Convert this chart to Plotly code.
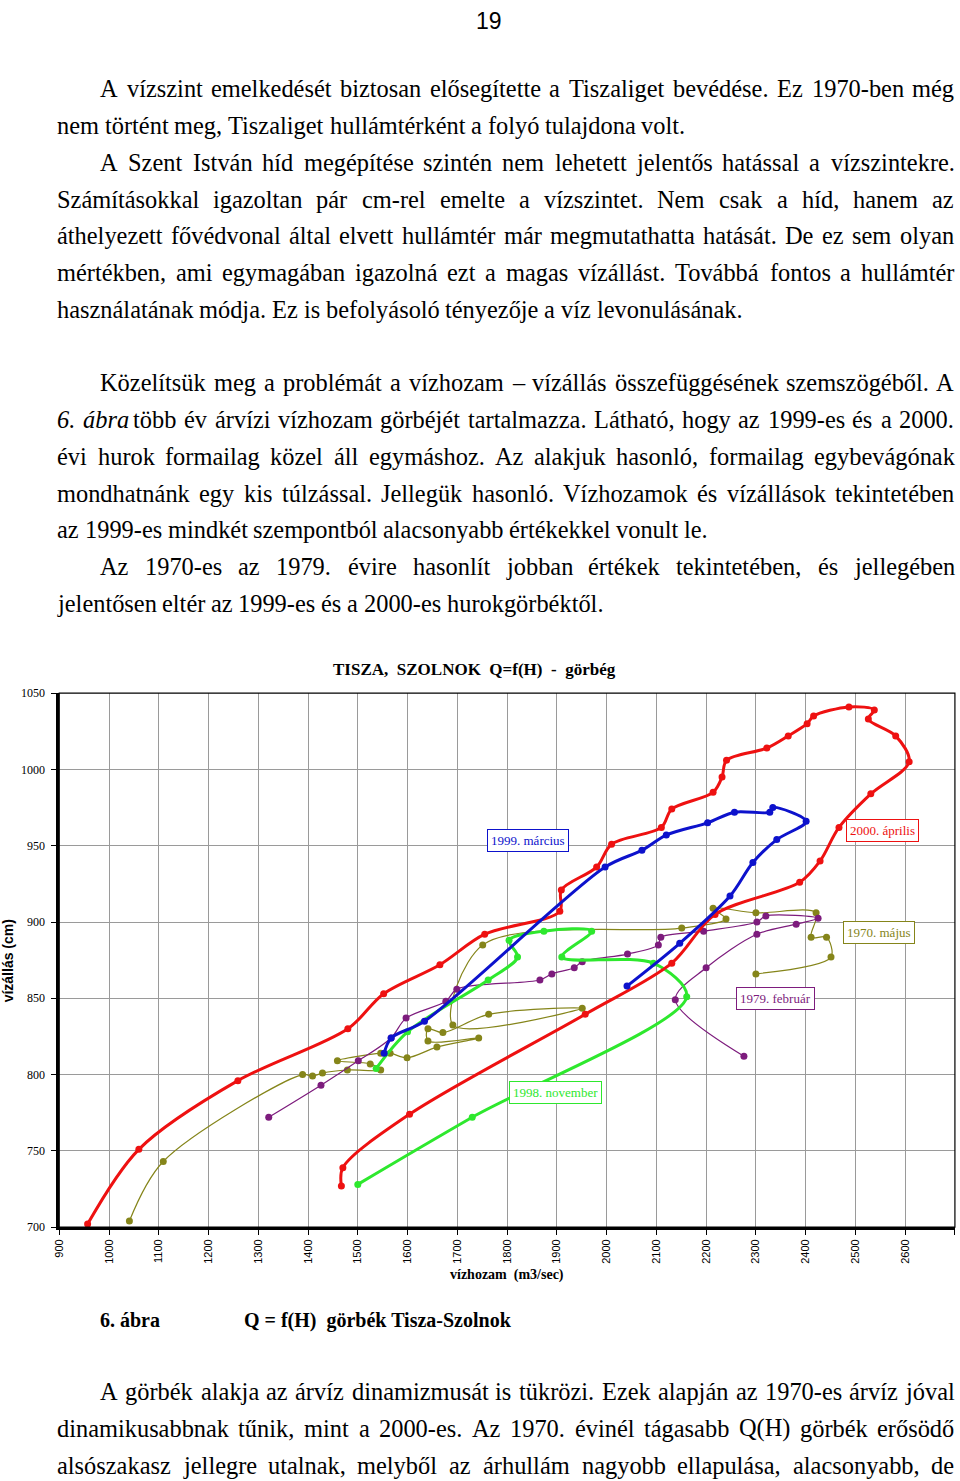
import unicodedata
import plotly.graph_objects as go

PAGE_W, PAGE_H = 960, 1481

# 2000. április
apr2000_q = [1467, 1470, 1604, 1957, 2131, 2218, 2388, 2429, 2467, 2531, 2608, 2581, 2526, 2538,
             2487, 2416, 2403, 2365, 2322, 2241, 2232, 2214, 2131, 2110, 2010, 1980, 1909, 1906,
             1755, 1665, 1552, 1480, 1259, 1060, 957]
apr2000_h = [727, 739, 774, 839.5, 873, 905, 926, 940, 962, 984, 1005, 1022, 1033, 1039,
             1041, 1035, 1030, 1022, 1014, 1006, 995, 985, 974, 962, 951, 936, 921, 907,
             892, 872, 853, 830, 796, 751, 702]

# 1999. március
mar1999_q = [1553, 1567, 1634, 1997, 2071, 2120, 2203, 2257, 2328, 2334, 2401, 2342, 2294, 2248, 2147, 2041]
mar1999_h = [814, 824, 835, 936, 947, 957, 965, 972, 972, 975, 966, 954, 939, 917, 886, 858]

# 1998. november
nov1998_q = [1500, 1730, 2161, 2094, 1910, 1970, 1874, 1804, 1821, 1762, 1600, 1537]
nov1998_h = [728, 772, 851, 873, 877, 894, 894, 888, 877, 862, 828, 804]

# 1979. február
feb1979_q = [1321, 1426, 1501, 1567, 1597, 1677, 1699, 1866, 1890, 1935, 1951, 2042, 2104, 2109,
             2195, 2302, 2320, 2425, 2381, 2302, 2200, 2138, 2276]
feb1979_h = [772, 793, 809, 824, 837, 848, 856, 862, 866, 870, 874, 879, 885, 890,
             894, 900, 904, 902.5, 898.6, 892, 870, 849, 812]

# 1970. május
maj1970_q = [1041, 1109, 1389, 1409, 1429, 1479, 1546, 1525, 1459, 1546, 1565, 1599, 1659, 1743,
             1641, 1641, 1671, 1763, 1951, 1691, 1751, 2151, 2240, 2214, 2300, 2421, 2411, 2442,
             2451, 2300]
maj1970_h = [704, 743, 800, 799, 801, 803, 803, 807, 809, 814, 814, 811, 818, 824,
             822, 830, 827.5, 839.5, 843.5, 832.5, 885, 896, 902, 909, 906, 906, 890, 890,
             877, 866]

series = [
    ("1970. május", maj1970_q, maj1970_h, "#85851a", 1.2),
    ("1979. február", feb1979_q, feb1979_h, "#7d1c7d", 1.2),
    ("1998. november", nov1998_q, nov1998_h, "#2ee82e", 3),
    ("2000. április", apr2000_q, apr2000_h, "#ee1111", 3),
    ("1999. március", mar1999_q, mar1999_h, "#0d12cc", 3),
]

# label boxes: text, Q, H, colour
labels = [
    ("1999. március", 1842, 953.5, "#0d12cc"),
    ("2000. április", 2555, 960, "#ee1111"),
    ("1970. május", 2547, 893, "#85851a"),
    ("1979. február", 2339, 850, "#7d1c7d"),
    ("1998. november", 1898, 788.5, "#2ee82e"),
]

body_lines = [
    (89, 100, True, "A vízszint emelkedését biztosan elősegítette a Tiszaliget bevédése. Ez 1970-ben még"),
    (126, 57, False, "nem történt meg, Tiszaliget hullámtérként a folyó tulajdona volt."),
    (163, 100, True, "A Szent István híd megépítése szintén nem lehetett jelentős hatással a vízszintekre."),
    (200, 57, True, "Számításokkal igazoltan pár cm-rel emelte a vízszintet. Nem csak a híd, hanem az"),
    (236, 57, True, "áthelyezett fővédvonal által elvett hullámtér már megmutathatta hatását. De ez sem olyan"),
    (273, 57, True, "mértékben, ami egymagában igazolná ezt a magas vízállást. Továbbá fontos a hullámtér"),
    (310, 57, False, "használatának módja. Ez is befolyásoló tényezője a víz levonulásának."),
    (383, 100, True, "Közelítsük meg a problémát a vízhozam – vízállás összefüggésének szemszögéből. A"),
    (420, 57, True, "<i>6.</i> <i>ábra</i> több év árvízi vízhozam görbéjét tartalmazza. Látható, hogy az 1999-es és a 2000."),
    (457, 57, True, "évi hurok formailag közel áll egymáshoz. Az alakjuk hasonló, formailag egybevágónak"),
    (494, 57, True, "mondhatnánk egy kis túlzással. Jellegük hasonló. Vízhozamok és vízállások tekintetében"),
    (530, 57, False, "az 1999-es mindkét szempontból alacsonyabb értékekkel vonult le."),
    (567, 100, True, "Az 1970-es az 1979. évire hasonlít jobban értékek tekintetében, és jellegében"),
    (604, 57, False, "jelentősen eltér az 1999-es és a 2000-es hurokgörbéktől."),
    (1392, 100, True, "A görbék alakja az árvíz dinamizmusát is tükrözi. Ezek alapján az 1970-es árvíz jóval"),
    (1429, 57, True, "dinamikusabbnak tűnik, mint a 2000-es. Az 1970. évinél tágasabb Q(H) görbék erősödő"),
    (1466, 57, True, "alsószakasz jellegre utalnak, melyből az árhullám nagyobb ellapulása, alacsonyabb, de"),
]

# Times / Liberation Serif advance widths (1/1000 em)
TNR = dict(zip("abcdefghijklmnopqrstuvwxyz",
               [444, 500, 444, 500, 444, 333, 500, 500, 278, 278, 500, 278, 778,
                500, 500, 500, 500, 333, 389, 278, 500, 500, 722, 500, 500, 444]))
TNR.update(zip("ABCDEFGHIJKLMNOPQRSTUVWXYZ",
               [722, 667, 667, 722, 611, 556, 722, 722, 333, 389, 722, 611, 889,
                722, 722, 556, 722, 667, 556, 611, 722, 722, 944, 722, 722, 611]))
TNR.update({" ": 250, ".": 250, ",": 250, "-": 333, "–": 500, "(": 333, ")": 333, "=": 564})
for d in "0123456789":
    TNR[d] = 500


def text_width(s, size):
    s = s.replace("<i>", "").replace("</i>", "")
    total = 0
    for c in s:
        base = unicodedata.normalize("NFD", c)[0]
        total += TNR.get(base, 500)
    return total * size / 1000


# the photographed page comes out slightly shrunk and shifted (about 0.99x, +7px);
# positions are measured on the reference picture and mapped back to page pixels
KX, BX = 0.993, 6.8
KY, BY = 0.9906, 7.8


def page_x(px):
    return (px - BX) / KX


def page_y(py):
    return (py - BY) / KY


def paper_x(px):
    return min(1.0, max(0.0, page_x(px) / PAGE_W))


def paper_y(py):
    return min(1.0, max(0.0, 1 - page_y(py) / PAGE_H))


BODY_FS = 24.4
serif = "Liberation Serif, Times New Roman, serif"

fig = go.Figure()
for name, q, h, color, lw in series:
    fig.add_scatter(x=q, y=h, name=name, mode="lines+markers",
                    line=dict(color=color, width=lw, shape="spline", smoothing=0.9),
                    marker=dict(color=color, size=7))

annotations = []


def px_note(text, x, y, **kw):
    d = dict(text=text, x=page_x(x) / PAGE_W, y=1 - page_y(y) / PAGE_H,
             xref="paper", yref="paper", showarrow=False, borderpad=0)
    d.update(kw)
    annotations.append(d)


right_p = page_x(953)
for y, x0, justify, line in body_lines:
    words = line.split(" ")
    widths = [text_width(w, BODY_FS) for w in words]
    start = page_x(x0)
    if justify:
        gap = (right_p - start - sum(widths)) / (len(words) - 1)
    else:
        gap = text_width(" ", BODY_FS)
    x = start
    for w, ww in zip(words, widths):
        annotations.append(dict(text=w, x=x / PAGE_W, y=1 - page_y(y) / PAGE_H,
                                xref="paper", yref="paper", showarrow=False, borderpad=0,
                                xanchor="left", yanchor="middle",
                                font=dict(family=serif, size=BODY_FS, color="black")))
        x += ww + gap

px_note("19", 489, 13, xanchor="center", yanchor="top",
        font=dict(family="Liberation Sans Narrow, Liberation Sans, sans-serif", size=23, color="black"))
annotations[-1]["y"] = 1.0
px_note("<b>6. ábra</b>", 100, 1321, xanchor="left", yanchor="middle",
        font=dict(family=serif, size=20, color="black"))
px_note("<b>Q = f(H)  görbék Tisza-Szolnok</b>", 244, 1321, xanchor="left", yanchor="middle",
        font=dict(family=serif, size=20, color="black"))

# chart texts
px_note("<b>TISZA,  SZOLNOK  Q=f(H)  -  görbég</b>", 475, 670, xanchor="center", yanchor="middle",
        font=dict(family=serif, size=17, color="black"))
px_note("<b>vízhozam  (m3/sec)</b>", 507, 1276, xanchor="center", yanchor="middle",
        font=dict(family=serif, size=14, color="black"))
px_note("<b>vízállás (cm)</b>", 9, 962, xanchor="center", yanchor="middle", textangle=-90,
        font=dict(family="Liberation Sans, Arial, sans-serif", size=14, color="black"))

for text, q, h, color in labels:
    annotations.append(dict(text=text, x=q, y=h, xref="x", yref="y", showarrow=False,
                            bgcolor="white", bordercolor=color, borderwidth=1, borderpad=3,
                            font=dict(family=serif, size=13, color=color)))

x0, x1, y_top, y_bot = 60, 955, 694, 1228
fig.update_layout(
    width=PAGE_W, height=PAGE_H, autosize=False,
    margin=dict(l=0, r=0, t=0, b=0),
    paper_bgcolor="white", plot_bgcolor="white",
    showlegend=False,
    annotations=annotations,
    xaxis=dict(domain=[paper_x(x0), paper_x(x1)], range=[900, 2700], dtick=100,
               tickangle=-90, showgrid=True, gridcolor="#9a9a9a", gridwidth=1,
               showline=True, linecolor="black", linewidth=2.5,
               ticks="outside", ticklen=5, tickcolor="black", zeroline=False,
               tickfont=dict(family="Liberation Sans, Arial, sans-serif", size=11, color="black")),
    yaxis=dict(domain=[paper_y(y_bot), paper_y(y_top)], range=[700, 1050], dtick=50,
               showgrid=True, gridcolor="#9a9a9a", gridwidth=1,
               showline=True, linecolor="black", linewidth=2.5,
               ticks="outside", ticklen=5, tickcolor="black", zeroline=False,
               ticklabelstandoff=4,
               tickfont=dict(family=serif, size=12, color="black")),
    shapes=[dict(type="rect", xref="x domain", yref="y domain", x0=0, x1=1, y0=0, y1=1,
                 line=dict(color="black", width=1.2), layer="above")],
)

# drop the default page margin so the figure sits at the top-left corner
fig.write_html("out.html", config={"displayModeBar": False},
               post_script="document.body.style.margin='0px';"
                           "document.documentElement.style.overflow='hidden';")
